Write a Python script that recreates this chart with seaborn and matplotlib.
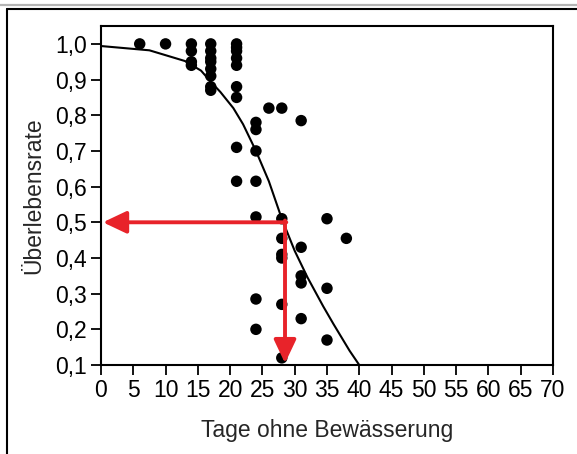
import seaborn as sns
import matplotlib.pyplot as plt
from matplotlib.lines import Line2D

# Messpunkte (Tage ohne Bewässerung, Überlebensrate)
days = [6, 10,
        14, 14, 14, 14,
        17, 17, 17, 17, 17, 17, 17, 17,
        21, 21, 21, 21, 21, 21, 21, 21, 21,
        24, 24, 24, 24, 24, 24, 24,
        26,
        28, 28, 28, 28, 28, 28, 28,
        31, 31, 31, 31, 31,
        35, 35, 35,
        38]
rates = [1.0, 1.0,
         1.0, 0.98, 0.95, 0.94,
         1.0, 0.98, 0.96, 0.95, 0.93, 0.91, 0.88, 0.87,
         1.0, 0.99, 0.98, 0.96, 0.94, 0.88, 0.85, 0.71, 0.615,
         0.78, 0.76, 0.70, 0.615, 0.515, 0.285, 0.20,
         0.82,
         0.82, 0.51, 0.455, 0.41, 0.40, 0.27, 0.12,
         0.785, 0.43, 0.35, 0.33, 0.23,
         0.51, 0.315, 0.17,
         0.455]

# angepasste Kurve
curve_days = [0, 7.5, 13, 15.5, 17, 18.5, 20.5, 22, 24, 26, 28, 30, 32, 34.4, 36, 38.5, 40]
curve_rates = [0.994, 0.982, 0.952, 0.925, 0.894, 0.865, 0.82, 0.775, 0.70, 0.615, 0.51,
               0.42, 0.345, 0.265, 0.215, 0.14, 0.10]

# LD50 Ablesung
ld50_day = 28.5
ld50_rate = 0.5

x_ticks = list(range(0, 75, 5))
y_ticks = [0.1, 0.2, 0.3, 0.4, 0.5, 0.6, 0.7, 0.8, 0.9, 1.0]
y_labels = ['0,1', '0,2', '0,3', '0,4', '0,5', '0,6', '0,7', '0,8', '0,9', '1,0']

sns.set_style('white')
plt.rcParams['font.family'] = ['Liberation Sans', 'DejaVu Sans']

fig = plt.figure(figsize=(5.77, 4.54), dpi=100)
ax = fig.add_axes([0.175, 0.196, 0.7834, 0.7474])

sns.lineplot(x=curve_days, y=curve_rates, ax=ax, color='black', linewidth=1.5,
             sort=False, estimator=None, zorder=2)
sns.scatterplot(x=days, y=rates, ax=ax, color='black', s=68, edgecolor='none',
                zorder=3, clip_on=False)

red = '#e8232a'
arrow = dict(arrowstyle='-|>,head_width=0.45,head_length=0.95', color=red, lw=2.8,
             shrinkA=0, shrinkB=0, mutation_scale=15)
ax.annotate('', xy=(0.3, ld50_rate), xytext=(ld50_day + 0.2, ld50_rate), arrowprops=arrow, zorder=4)
ax.annotate('', xy=(ld50_day, 0.105), xytext=(ld50_day, ld50_rate + 0.005), arrowprops=arrow, zorder=4)

ax.set_xlim(0, 70)
ax.set_ylim(0.1, 1.051)
ax.set_xticks(x_ticks)
ax.set_xticklabels([str(t) for t in x_ticks])
ax.set_yticks(y_ticks)
ax.set_yticklabels(y_labels)
ax.tick_params(direction='out', length=7.5, width=1.3, labelsize=16.5, pad=2.5,
               colors='black', bottom=True, left=True)
for sp in ax.spines.values():
    sp.set_color('black')
    sp.set_linewidth(1.5)

ax.set_xlabel('Tage ohne Bewässerung', fontsize=16.5, labelpad=12)
ax.set_ylabel('Überlebensrate', fontsize=16.5, labelpad=7)

# Rahmen um die Grafik
fig.add_artist(Line2D([0, 1], [0.989, 0.989], color='#b4b4b4', lw=1.6))
fig.add_artist(Line2D([0.0116, 0.0116], [0, 0.980], color='black', lw=1.5))
fig.add_artist(Line2D([0.0116, 1], [0.980, 0.980], color='black', lw=1.5))

plt.savefig('out.png', dpi=100)
